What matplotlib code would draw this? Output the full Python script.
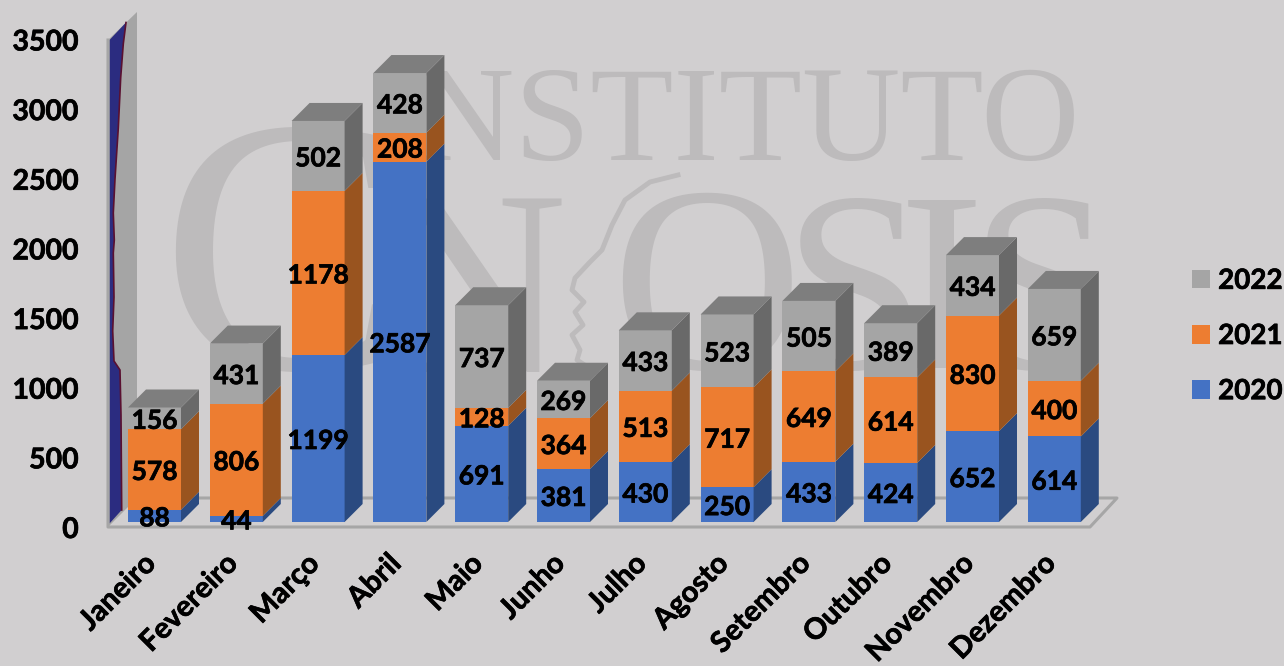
import matplotlib
matplotlib.use("Agg")
import matplotlib.pyplot as plt
import matplotlib.patheffects as pe
from matplotlib.patches import Polygon, Patch
from matplotlib.transforms import Affine2D, ScaledTranslation
from matplotlib.lines import Line2D

months = ["Janeiro", "Fevereiro", "Março", "Abril", "Maio", "Junho", "Julho",
          "Agosto", "Setembro", "Outubro", "Novembro", "Dezembro"]
v2020 = [88, 44, 1199, 2587, 691, 381, 430, 250, 433, 424, 652, 614]
v2021 = [578, 806, 1178, 208, 128, 364, 513, 717, 649, 614, 830, 400]
v2022 = [156, 431, 502, 428, 737, 269, 433, 523, 505, 389, 434, 659]
series = [("2020", v2020), ("2021", v2021), ("2022", v2022)]
yticks = [0, 500, 1000, 1500, 2000, 2500, 3000, 3500]

FRONT = {"2020": "#4472c4", "2021": "#ed7d31", "2022": "#a5a5a5"}
SIDE = {"2020": "#2a4a80", "2021": "#99541f", "2022": "#696969"}
TOP = "#7e7e7e"
BG = "#d1cfd0"
WM = "#bdbbbc"
FONT = "Lato"
BOLD = [pe.withStroke(linewidth=0.5, foreground="black")]

W, H = 1284, 666
PXY = 0.1393          # pixels per unit
STEP = 81.8           # pixels per category
X0 = 154.5
BASE = 522
L, R = 108, 1117
DEPTH = 18

plt.rcParams["font.family"] = [FONT, "DejaVu Sans"]
fig = plt.figure(figsize=(W / 100, H / 100), dpi=100, facecolor=BG)
px = Affine2D().scale(1, -1).translate(0, H)


def mark(x, y, s, size, ha="center"):
    fig.text(x, H - y, s, transform=None, family="Liberation Serif", fontsize=size,
             color=WM, ha=ha, va="baseline", zorder=-1)


# watermark behind everything
mark(1080, 160, "INSTITUTO", 98, ha="right")
mark(160, 368, "C", 262, ha="left")
mark(472, 372, "N", 190)
mark(706, 368, "O", 190)
mark(854, 368, "S", 185)
mark(942, 368, "I", 185)
mark(1041, 368, "S", 185)
fig.add_artist(Line2D([678, 650, 625, 612, 602, 590, 575, 572, 584, 575, 583, 572, 580, 577, 600],
                      [175, 182, 200, 225, 250, 262, 278, 290, 302, 312, 325, 335, 350, 360, 375],
                      transform=px, color=WM, lw=3.5, zorder=-1))

ax = fig.add_axes([L / W, (H - BASE) / H, (R - L) / W, BASE / H])
ax.patch.set_visible(False)
for s in ax.spines.values():
    s.set_visible(False)
ax.set_xlim((L - X0) / STEP, (R - X0) / STEP)
ax.set_ylim(0, BASE / PXY)

# walls and floor
edge_x = [126, 123.3, 120.7, 118.3, 115, 113.3, 114.3, 113.3, 114, 112.7, 114, 120, 121, 121.7]
edge_y = [22.5, 43.8, 77.6, 128, 179, 213, 240, 253, 297, 331, 361, 370, 415, 510]
ax.add_patch(Polygon([(108, 40), (137, 12), (137, 498), (108, 527)], transform=px,
                     fc="#a5a5a5", ec="none", zorder=1, clip_on=False))
ax.add_patch(Polygon([(109.5, 40)] + list(zip(edge_x, edge_y)) + [(109.5, 523.5)], transform=px,
                     fc="#2b2c80", ec="none", zorder=1.1, clip_on=False))
ax.add_line(Line2D(edge_x, edge_y, transform=px, color="#5a1030", lw=1.2, zorder=1.2, clip_on=False))
ax.add_line(Line2D([108, 108, 1090, 1117, 137], [40, 527, 527, 498, 498], transform=px,
                   color="#a6a6a6", lw=2.2, zorder=1.3, clip_on=False))

width = 53 / STEP
dx = DEPTH / STEP
dy = DEPTH / PXY
xs = list(range(len(months)))

bottoms = [0] * len(months)
for k, (name, vals) in enumerate(series):
    ax.bar(xs, vals, width, bottom=bottoms, color=FRONT[name], zorder=3 + k * 0.01)
    for x, b, v in zip(xs, bottoms, vals):
        r = x + width / 2
        ax.add_patch(Polygon([(r, b), (r + dx, b + dy), (r + dx, b + v + dy), (r, b + v)],
                             fc=SIDE[name], ec="none", zorder=3 + k * 0.01, clip_on=False))
    bottoms = [b + v for b, v in zip(bottoms, vals)]
for x, t in zip(xs, bottoms):
    l, r = x - width / 2, x + width / 2
    ax.add_patch(Polygon([(l, t), (l + dx, t + dy), (r + dx, t + dy), (r, t)],
                         fc=TOP, ec="none", zorder=3.1, clip_on=False))

# value labels
lower = ax.transData + ScaledTranslation(0, -2.5 / 100, fig.dpi_scale_trans)
bottoms = [0] * len(months)
for name, vals in series:
    for x, b, v in zip(xs, bottoms, vals):
        ax.text(x, b + v / 2, str(v), ha="center", va="center", fontsize=19,
                fontweight="bold", color="black", zorder=5, clip_on=False,
                path_effects=BOLD, transform=lower)
    bottoms = [b + v for b, v in zip(bottoms, vals)]

# axes text
ax.set_yticks(yticks)
ax.set_yticklabels([str(v) for v in yticks], fontsize=20.5, fontweight="bold", color="black",
                   path_effects=BOLD)
ax.tick_params(axis="y", length=0, pad=21)
down = ScaledTranslation(0, -5.5 / 100, fig.dpi_scale_trans)
for lab in ax.get_yticklabels():
    lab.set_transform(lab.get_transform() + down)
ax.set_xticks(xs)
ax.set_xticklabels(months, fontsize=21, fontweight="bold", color="black",
                   rotation=45, ha="right", va="center", rotation_mode="anchor", path_effects=BOLD)
ax.tick_params(axis="x", length=0, pad=27)
left = ScaledTranslation(-3 / 100, 0, fig.dpi_scale_trans)
for lab in ax.get_xticklabels():
    lab.set_transform(lab.get_transform() + left)

handles = [Patch(fc=FRONT[n]) for n, _ in reversed(series)]
leg = fig.legend(handles, [n for n, _ in reversed(series)], loc="center left",
                 bbox_to_anchor=(1192 / W, (H - 336) / H), frameon=False,
                 prop={"family": FONT, "weight": "bold", "size": 20},
                 handlelength=0.65, handleheight=0.65, handletextpad=0.29, labelspacing=1.05,
                 borderpad=0, borderaxespad=0)
for t in leg.get_texts():
    t.set_path_effects(BOLD)

fig.savefig("out.png", dpi=100, facecolor=BG)
